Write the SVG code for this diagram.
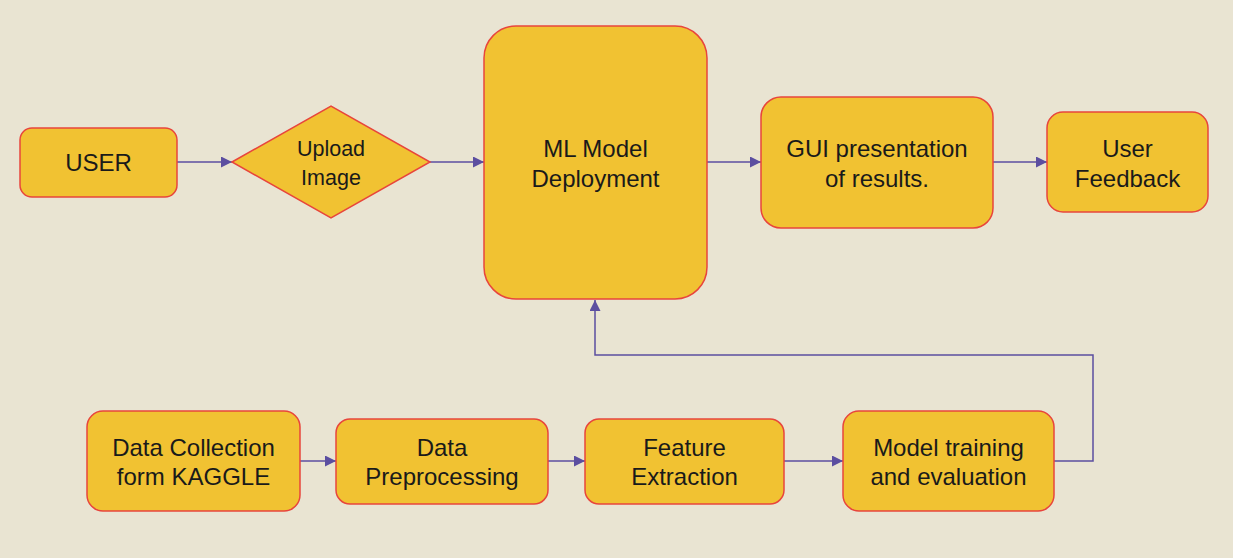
<svg xmlns="http://www.w3.org/2000/svg" width="1233" height="558" viewBox="0 0 1233 558">
<style>
.n{fill:#F1C232;stroke:#E8453C;stroke-width:1.5}
.t{font-family:"Liberation Sans",Arial,sans-serif;font-size:24px;fill:#1a1a1a;text-anchor:middle}
.s{font-size:21.5px}
.c{fill:none;stroke:#5B4EA0;stroke-width:1.5}
</style>
<defs>
<marker id="a" viewBox="0 0 10 10" refX="10" refY="5" markerWidth="11" markerHeight="11" markerUnits="userSpaceOnUse" orient="auto">
<path d="M0,0 L10,5 L0,10 z" fill="#5B4EA0"/>
</marker>
</defs>
<rect width="1233" height="558" fill="#E9E4D2"/>
<g id="connectors">
<path class="c" d="M177,162 H232" marker-end="url(#a)"/>
<path class="c" d="M430,162 H484" marker-end="url(#a)"/>
<path class="c" d="M707,162 H761" marker-end="url(#a)"/>
<path class="c" d="M993,162 H1047" marker-end="url(#a)"/>
<path class="c" d="M300,461 H336" marker-end="url(#a)"/>
<path class="c" d="M548,461 H585" marker-end="url(#a)"/>
<path class="c" d="M784,461 H843" marker-end="url(#a)"/>
<path class="c" d="M1054,461 H1093 V355 H595 V300" marker-end="url(#a)"/>
</g>
<g id="user">
<rect class="n" x="20" y="128" width="157" height="69" rx="12"/>
<text class="t" x="98.5" y="171">USER</text>
</g>
<g id="upload">
<polygon class="n" points="232,162 331,106 430,162 331,218"/>
<text class="t s" x="331" y="156">Upload</text>
<text class="t s" x="331" y="185">Image</text>
</g>
<g id="ml">
<rect class="n" x="484" y="26" width="223" height="273" rx="32"/>
<text class="t" x="595.5" y="157">ML Model</text>
<text class="t" x="595.5" y="187">Deployment</text>
</g>
<g id="gui">
<rect class="n" x="761" y="97" width="232" height="131" rx="20"/>
<text class="t" x="877" y="157">GUI presentation</text>
<text class="t" x="877" y="187">of results.</text>
</g>
<g id="feedback">
<rect class="n" x="1047" y="112" width="161" height="100" rx="16"/>
<text class="t" x="1127.5" y="157">User</text>
<text class="t" x="1127.5" y="187">Feedback</text>
</g>
<g id="collection">
<rect class="n" x="87" y="411" width="213" height="100" rx="16"/>
<text class="t" x="193.5" y="456">Data Collection</text>
<text class="t" x="193.5" y="485">form KAGGLE</text>
</g>
<g id="preprocessing">
<rect class="n" x="336" y="419" width="212" height="85" rx="14"/>
<text class="t" x="442" y="456">Data</text>
<text class="t" x="442" y="485">Preprocessing</text>
</g>
<g id="feature">
<rect class="n" x="585" y="419" width="199" height="85" rx="14"/>
<text class="t" x="684.5" y="456">Feature</text>
<text class="t" x="684.5" y="485">Extraction</text>
</g>
<g id="training">
<rect class="n" x="843" y="411" width="211" height="100" rx="16"/>
<text class="t" x="948.5" y="456">Model training</text>
<text class="t" x="948.5" y="485">and evaluation</text>
</g>
</svg>
